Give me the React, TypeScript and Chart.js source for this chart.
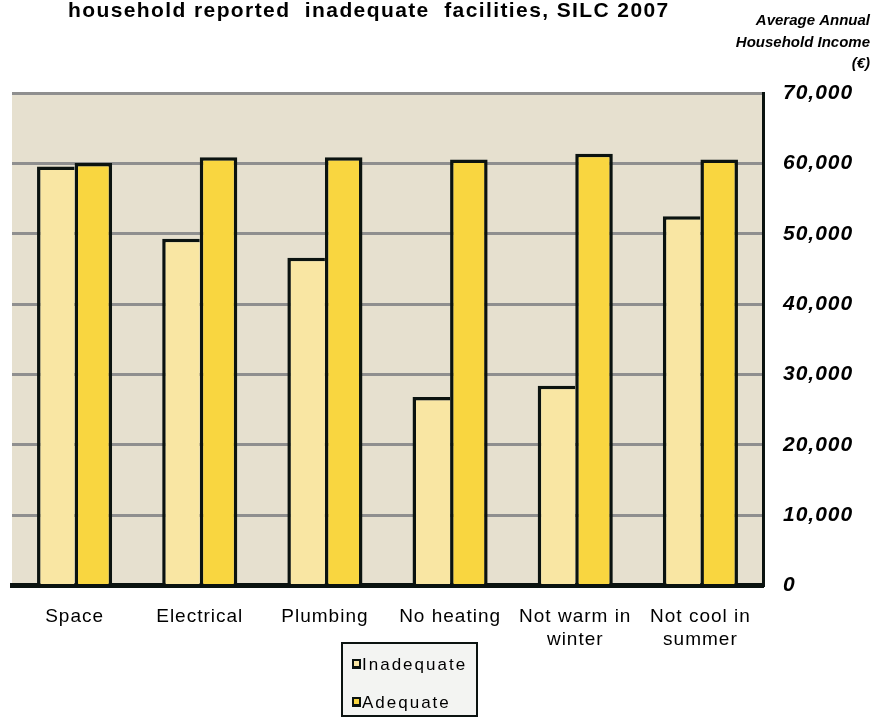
import React, { useEffect, useRef } from "react";
import { Chart, registerables } from "chart.js";

Chart.register(...registerables);

// Facility categories (x axis)
const categories: (string | string[])[] = [
  "Space",
  "Electrical",
  "Plumbing",
  "No heating",
  ["Not warm in", "winter"],
  ["Not cool in", "summer"],
];

// Average annual household income (€)
const inadequate = [59600, 49300, 46600, 26800, 28400, 52500];
const adequate = [60100, 60900, 60900, 60600, 61400, 60600];

const seriesNames = ["Inadequate", "Adequate"];
const yTicks = [0, 10000, 20000, 30000, 40000, 50000, 60000, 70000];

const titleText = "household reported  inadequate  facilities, SILC 2007";
const axisTitleLines = ["Average Annual", "Household Income", "(€)"];

const W = 877;
const H = 718;

const COL_INADEQUATE = "#f9e6a3";
const COL_ADEQUATE = "#f9d640";
const COL_EDGE = "#0b1310";
const COL_PLOT = "#e6e0cf";
const COL_GRID = "#8f8f8f";

const decorPlugin = {
  id: "decor",
  beforeDraw(chart: any) {
    const { ctx, chartArea } = chart;
    ctx.save();
    ctx.fillStyle = COL_PLOT;
    ctx.fillRect(
      chartArea.left,
      chartArea.top,
      chartArea.right - chartArea.left,
      chartArea.bottom - chartArea.top
    );
    ctx.restore();
    (ctx as any).letterSpacing = "1px";
  },
  afterDraw(chart: any) {
    const ctx = chart.ctx;
    ctx.save();
    ctx.fillStyle = "#000";

    // title
    (ctx as any).letterSpacing = "1.4px";
    ctx.font = "bold 21px 'Liberation Sans', Arial, sans-serif";
    ctx.textAlign = "left";
    ctx.textBaseline = "alphabetic";
    ctx.fillText(titleText, 68, 17);

    // axis title (top right)
    (ctx as any).letterSpacing = "0px";
    ctx.font = "italic bold 15px 'Liberation Sans', Arial, sans-serif";
    ctx.textAlign = "right";
    const ys = [25, 47, 68];
    axisTitleLines.forEach((t, i) => ctx.fillText(t, 870, ys[i]));

    // legend box
    const lx = 342, ly = 643, lw = 135, lh = 73;
    ctx.fillStyle = "#f3f4f2";
    ctx.fillRect(lx, ly, lw, lh);
    ctx.strokeStyle = COL_EDGE;
    ctx.lineWidth = 2;
    ctx.strokeRect(lx, ly, lw, lh);

    const cols = [COL_INADEQUATE, COL_ADEQUATE];
    const baselines = [670, 708];
    ctx.font = "17px 'Liberation Sans', Arial, sans-serif";
    ctx.textAlign = "left";
    (ctx as any).letterSpacing = "2px";
    seriesNames.forEach((name, i) => {
      const cy = baselines[i] - 6;
      ctx.fillStyle = COL_EDGE;
      ctx.fillRect(352, cy - 5, 9, 10);
      ctx.fillStyle = cols[i];
      ctx.fillRect(354, cy - 3, 5, 5);
      ctx.fillStyle = "#000";
      ctx.fillText(name, 362, baselines[i]);
    });
    ctx.restore();
  },
};

export default function App() {
  const ref = useRef<HTMLCanvasElement | null>(null);

  useEffect(() => {
    if (!ref.current) return;
    const chart = new Chart(ref.current, {
      type: "bar",
      data: {
        labels: categories,
        datasets: [
          {
            label: seriesNames[0],
            data: inadequate,
            backgroundColor: COL_INADEQUATE,
            borderColor: COL_EDGE,
            borderWidth: { left: 3.5, top: 3.5, right: 0, bottom: 0 },
            borderSkipped: false,
          },
          {
            label: seriesNames[1],
            data: adequate,
            backgroundColor: COL_ADEQUATE,
            borderColor: COL_EDGE,
            borderWidth: { left: 3.5, top: 3.5, right: 3.5, bottom: 0 },
            borderSkipped: false,
          },
        ],
      },
      options: {
        responsive: false,
        animation: false,
        devicePixelRatio: 1,
        layout: { padding: { left: 12, top: 93.3, right: 0, bottom: 0 } },
        datasets: {
          bar: { categoryPercentage: 0.6, barPercentage: 1 },
        },
        plugins: {
          legend: { display: false },
          title: { display: false },
          tooltip: { enabled: false },
        },
        scales: {
          x: {
            grid: { display: false, drawTicks: false },
            border: { display: true, color: COL_EDGE, width: 5 },
            ticks: {
              color: "#000",
              padding: 20,
              maxRotation: 0,
              autoSkip: false,
              font: { family: "'Liberation Sans', Arial, sans-serif", size: 19, lineHeight: 1.2 },
            },
            afterFit: (s: any) => {
              s.height = H - 585.5;
            },
          },
          y: {
            position: "right",
            min: 0,
            max: 70000,
            afterBuildTicks: (s: any) => {
              s.ticks = yTicks.map((v) => ({ value: v }));
            },
            grid: {
              drawTicks: false,
              lineWidth: 3,
              color: (c: any) => (c.tick && c.tick.value === 0 ? "rgba(0,0,0,0)" : COL_GRID),
            },
            border: { display: true, color: COL_EDGE, width: 3 },
            ticks: {
              color: "#000",
              padding: 20,
              font: {
                family: "'Liberation Sans', Arial, sans-serif",
                size: 21,
                weight: "bold",
                style: "italic",
              },
              callback: (v: any) => Number(v).toLocaleString("en-US"),
            },
            afterFit: (s: any) => {
              s.width = W - 763;
            },
          },
        },
      },
      plugins: [decorPlugin],
    });
    return () => chart.destroy();
  }, []);

  return (
    <div style={{ position: "fixed", left: 0, top: 0, width: W, height: H, background: "#fff" }}>
      <canvas ref={ref} width={W} height={H} style={{ display: "block" }} />
    </div>
  );
}
